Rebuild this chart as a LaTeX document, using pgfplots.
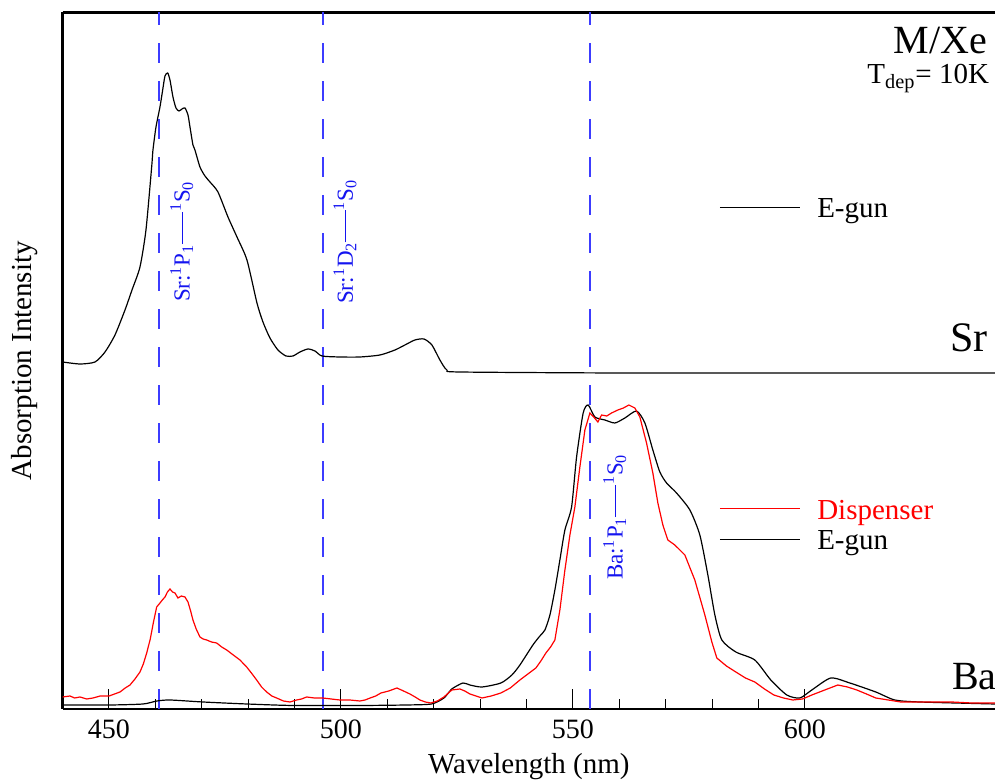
\documentclass[border=0pt]{standalone}
\usepackage{fontspec}
\setmainfont{Liberation Serif}
\usepackage{xcolor}
\usepackage{pgfplots}
\pgfplotsset{compat=1.18}

\definecolor{dashblue}{RGB}{60,60,255}
\definecolor{txtblue}{RGB}{20,20,240}

\newcommand{\trans}{\rule[0.28em]{1.4em}{0.045em}}

\begin{document}
\begin{tikzpicture}
\begin{axis}[
    scale only axis,
    width=466.2pt, height=348.25pt,
    xmin=440, xmax=641,
    ymin=0, ymax=696.5,
    axis x line*=box,
    axis y line*=left,
    axis line style={line width=1.2pt},
    xtick={450,500,550,600},
    minor x tick num=4,
    ytick=\empty,
    xtick pos=left,
    tick align=inside,
    major tick length=10pt,
    minor tick length=5pt,
    every tick/.style={black, line width=0.5pt},
    /pgf/number format/assume math mode=true,
    tick label style={font=\fontsize{14}{16}\selectfont},
    xticklabel style={yshift=-2pt},
    xlabel={Wavelength (nm)},
    ylabel={Absorption Intensity},
    every axis x label/.style={at={(axis description cs:0.5,0)}, anchor=base, yshift=-32.5pt, font=\fontsize{14.5}{17}\selectfont},
    every axis y label/.style={at={(axis description cs:-0.0403,0.5)}, anchor=center, rotate=90, font=\fontsize{14.5}{17}\selectfont},
    clip=false,
]

% reference lines of the atomic transitions
\addplot[draw=dashblue, line width=1.1pt, dash pattern=on 10pt off 9pt] coordinates {(460.8,0) (460.8,696.5)};
\addplot[draw=dashblue, line width=1.1pt, dash pattern=on 10pt off 9pt] coordinates {(496.2,0) (496.2,696.5)};
\addplot[draw=dashblue, line width=1.1pt, dash pattern=on 10pt off 9pt] coordinates {(553.7,0) (553.7,696.5)};

% Sr, E-gun
\addplot[black, line width=0.6pt, smooth, tension=0.4] coordinates {
(440,347)(443.75,345)(446.98,347)(449.14,357)(451.29,374)(453.45,399)(454.96,419)(456.68,442)(457.97,479)(459.20,542)(459.48,559)(460.13,582)(460.99,602)(461.64,621)(462.07,633)(462.65,636)(463.15,629)(463.79,612)(464.44,601)(465.09,598)(465.73,600)(466.38,601)(467.03,594)(467.46,582)(468.10,564)(468.53,559)(469.61,542)(470.69,533)(471.77,527)(473.49,517)(475.65,492)(477.59,472)(479.74,449)(481.90,406)(483.19,387)(484.70,371)(486.42,359)(488.15,353)(489.66,353)(491.17,357)(492.89,360)(494.40,358)(495.91,353)(499.78,352)(504.09,352)(508.41,354)(511.64,359)(513.79,364)(515.95,369)(517.89,370)(519.61,364)(521.34,349)(522.84,339)(525.65,337)(560,336)(600,336)(641,336)
};

% Ba, E-gun
\addplot[black, line width=0.6pt, smooth, tension=0.4] coordinates {
(440,4)(450.22,4)(457.33,5)(460.34,8)(463.15,9)(470.26,7)(479.74,5)(489.66,3.5)(504.09,3.5)(514,4)(519.5,5)(522.2,11)(523.9,20)(526.29,26)(527.8,24)(530.39,22)(534.48,26)(536.85,34)(538.58,44)(541.38,64)(542.89,73)(543.97,79)(545.05,94)(546.12,119)(547.2,149)(548.28,179)(549.72,202)(550.80,252)(552.22,296)(553.30,304)(554.74,292)(556.90,289)(559.05,286)(561.21,291)(563.73,298)(565.52,286)(567.24,259)(568.75,237)(570.20,226)(572.35,216)(575.22,199)(577.37,174)(579.10,134)(580.61,94)(582.11,69)(585.13,57)(589.22,49)(592.67,29)(596.12,14)(598.92,11)(601.51,19)(605.60,31)(609.70,26)(615.30,17)(619.40,9)(624.79,7)(641,5)
};

% Ba, Dispenser
\addplot[red, line width=0.6pt] coordinates {
(440,12)(441.59,13)(442.6,11)(443.75,12)(445.2,10)(446.55,11)(448.1,13)(450,13)(451.2,15)(452.37,17)(453.5,21)(454.53,24)(455.6,30)(456.68,37)(457.4,45)(458.13,56)(458.9,70)(459.55,86)(460.28,102)(460.99,106)(461.5,109)(462.07,112)(462.6,117)(463.15,120)(463.7,117)(464.22,116)(464.87,111)(465.6,113)(466.38,112)(467.03,107)(467.6,98)(468.10,89)(468.8,80)(469.61,72)(470.3,70)(471.06,69)(472.1,67)(473.21,66)(474.3,62)(475.37,59)(476.8,54)(478.23,49)(479.68,42)(480.7,36)(481.83,29)(482.9,22)(483.99,17)(485.1,13)(486.14,11)(487.6,8)(489.01,7)(490.45,9)(491.5,10)(492.61,12)(494.3,11)(496.12,11)(497.9,10)(499.78,9)(501.9,9)(504.09,8)(505.2,9)(506.3,11)(507.5,13)(508.62,16)(510.3,18)(512.07,21)(513.5,18)(514.87,15)(516,12)(517.03,9)(518.2,7)(519.4,6)(520.8,8)(522.2,12)(523.9,19)(525.65,20)(526.7,18)(527.8,15)(529.1,13)(530.39,11)(532.4,13)(534.48,16)(536.5,21)(538.58,29)(540.3,35)(542.03,41)(543.1,48)(544.18,56)(545.2,62)(546.12,69)(547.2,99)(548.28,139)(549.36,174)(550.43,202)(551.51,242)(552.59,279)(553.67,296)(554.5,292)(555.39,287)(556.19,294)(557.3,293)(558.34,296)(559.7,299)(560.9,301)(562.07,304)(563.36,301)(564.44,292)(565.88,266)(567.24,236)(568.32,206)(569.40,184)(570.47,169)(571.98,164)(574.14,154)(576.29,129)(578.45,94)(579.96,67)(581.03,51)(583.1,43)(585.13,37)(587.2,31)(589.22,27)(591.3,20)(593.32,14)(595.4,11)(597.41,9)(599.5,10)(601.51,14)(604.3,19)(607.11,24)(609.2,22)(611.21,19)(613.3,15)(615.30,11)(618,9)(620.69,7)(626,7)(631.68,7)(636,6)(641,6)
};

% transition labels
\node[txtblue, rotate=90, anchor=center, inner sep=0pt, font=\fontsize{11.5}{13}\selectfont]
  at (axis cs:465.7,467.5) {Sr:\textsuperscript{1}P\textsubscript{1}\trans\textsuperscript{1}S\textsubscript{0}};
\node[txtblue, rotate=90, anchor=center, inner sep=0pt, font=\fontsize{11.5}{13}\selectfont]
  at (axis cs:500.9,467.5) {Sr:\textsuperscript{1}D\textsubscript{2}\trans\textsuperscript{1}S\textsubscript{0}};
\node[txtblue, rotate=90, anchor=center, inner sep=0pt, font=\fontsize{11.5}{13}\selectfont]
  at (axis cs:559.05,192) {Ba:\textsuperscript{1}P\textsubscript{1}\trans\textsuperscript{1}S\textsubscript{0}};

% titles
\node[anchor=base east, inner sep=0pt, font=\fontsize{20}{23}\selectfont] at (axis cs:639.4,655) {M/Xe};
\node[anchor=base east, inner sep=0pt, font=\fontsize{14.5}{17}\selectfont] at (axis cs:639.8,625) {T\textsubscript{dep}= 10K};
\node[anchor=base west, inner sep=0pt, font=\fontsize{21}{24}\selectfont] at (axis cs:631.25,357) {Sr};
\node[anchor=base west, inner sep=0pt, font=\fontsize{20}{23}\selectfont] at (axis cs:631.7,19) {Ba};

% legends
\draw[black, line width=0.5pt] (axis cs:581.7,501) -- (axis cs:598.9,501);
\node[anchor=base west, inner sep=0pt, font=\fontsize{14.5}{17}\selectfont] at (axis cs:602.6,491) {E-gun};
\draw[red, line width=0.5pt] (axis cs:581.7,200) -- (axis cs:598.9,200);
\node[red, anchor=base west, inner sep=0pt, font=\fontsize{14.5}{17}\selectfont] at (axis cs:602.6,189) {Dispenser};
\draw[black, line width=0.5pt] (axis cs:581.7,169) -- (axis cs:598.9,169);
\node[anchor=base west, inner sep=0pt, font=\fontsize{14.5}{17}\selectfont] at (axis cs:602.6,159) {E-gun};

\coordinate (bl) at (rel axis cs:0,0);
\coordinate (tr) at (rel axis cs:1,1);
\end{axis}
\pgfresetboundingbox
\path[use as bounding box] ([xshift=-31.3pt,yshift=-35.5pt]bl) rectangle ([yshift=6.25pt]tr);
\end{tikzpicture}
\end{document}
